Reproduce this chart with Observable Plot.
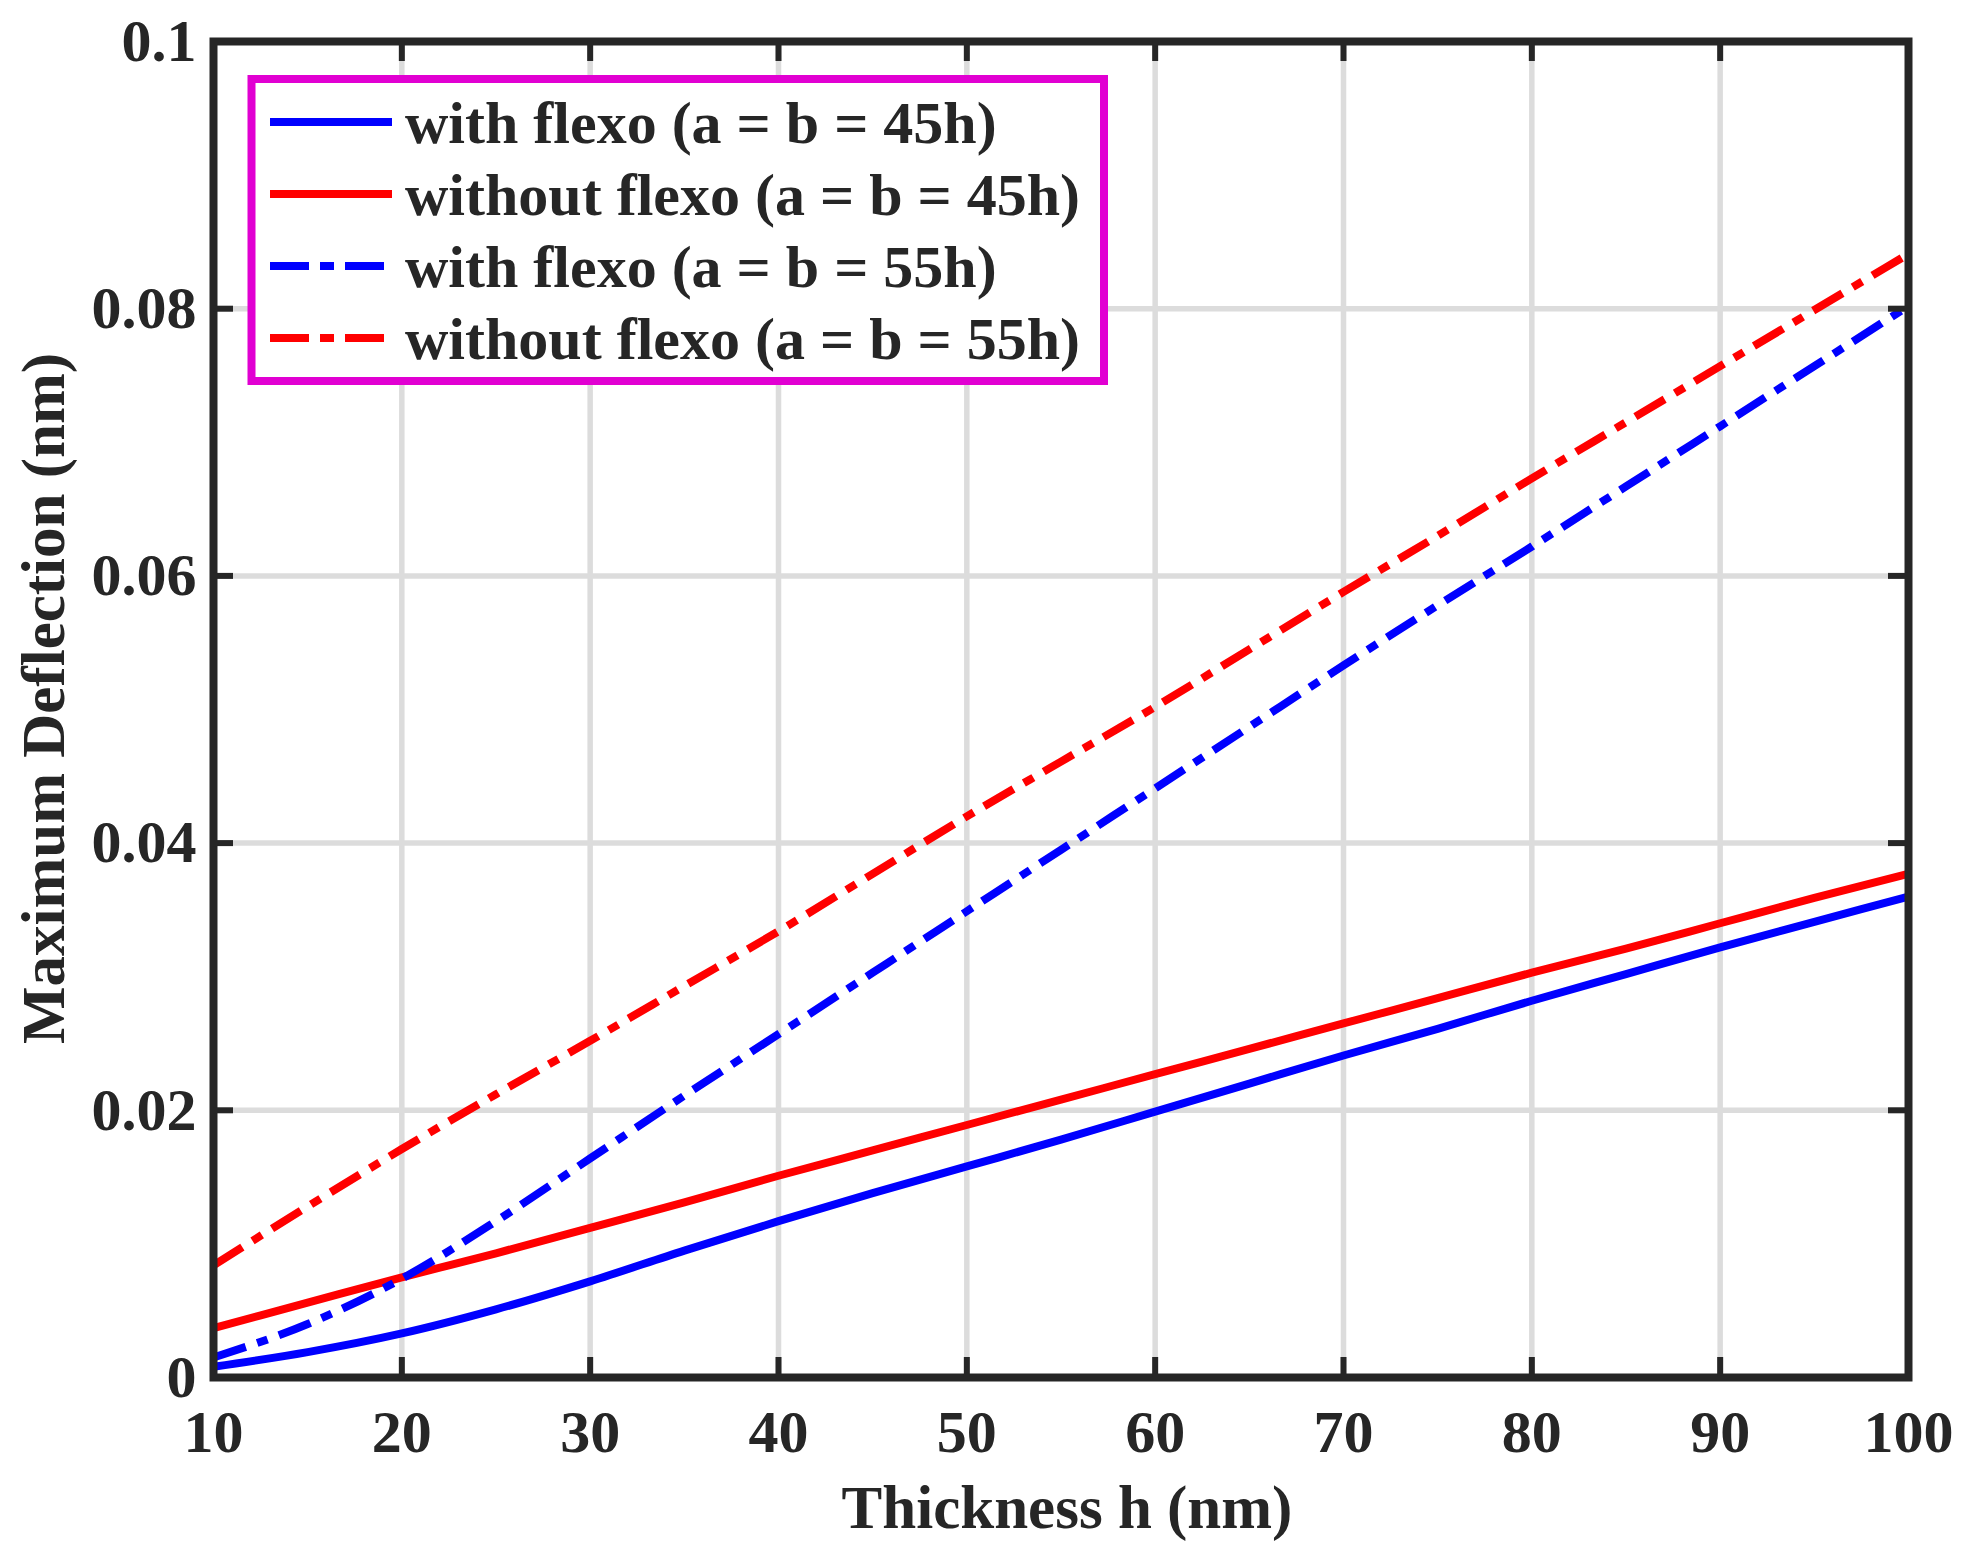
<!DOCTYPE html>
<html>
<head>
<meta charset="utf-8">
<script src="https://cdn.jsdelivr.net/npm/d3@7"></script>
<script src="https://cdn.jsdelivr.net/npm/@observablehq/plot@0.6"></script>
<style>
  html, body { margin: 0; padding: 0; background: #fff; }
  #chart svg { display: block; }
</style>
</head>
<body>
<div id="chart"></div>
<script>
// ---- data ----
const thickness = [10, 15, 20, 25, 30, 35, 40, 45, 50, 55, 60, 65, 70, 75, 80, 85, 90, 95, 100];
const withFlexo45    = [0.0008, 0.0019, 0.0033, 0.0051, 0.0072, 0.0095, 0.0117, 0.0138, 0.0158, 0.0178, 0.0199, 0.0220, 0.0241, 0.0261, 0.0282, 0.0302, 0.0322, 0.0341, 0.0360];
const withoutFlexo45 = [0.0037, 0.0056, 0.0075, 0.0093, 0.0112, 0.0131, 0.0151, 0.0170, 0.0189, 0.0208, 0.0227, 0.0246, 0.0265, 0.0284, 0.0303, 0.0321, 0.0340, 0.0359, 0.0377];
const withFlexo55    = [0.0015, 0.0040, 0.0074, 0.0117, 0.0164, 0.0211, 0.0257, 0.0303, 0.0349, 0.0395, 0.0441, 0.0487, 0.0533, 0.0578, 0.0622, 0.0667, 0.0712, 0.0757, 0.0802];
const withoutFlexo55 = [0.0084, 0.0128, 0.0171, 0.0212, 0.0252, 0.0293, 0.0334, 0.0377, 0.0420, 0.0461, 0.0502, 0.0545, 0.0588, 0.0630, 0.0673, 0.0715, 0.0757, 0.0799, 0.0841];

const seriesNames  = ["with flexo (a = b = 45h)", "without flexo (a = b = 45h)", "with flexo (a = b = 55h)", "without flexo (a = b = 55h)"];
const seriesColors = ["#0000ff", "#ff0000", "#0000ff", "#ff0000"];
const seriesDash   = [null, null, "34,12,11,12", "34,12,11,12"];

const xTicks = [10, 20, 30, 40, 50, 60, 70, 80, 90, 100];
const yTicks = [0, 0.02, 0.04, 0.06, 0.08, 0.1];
const xLabel = "Thickness h (nm)";
const yLabel = "Maximum Deflection (nm)";

// ---- build table ----
const seriesValues = [withFlexo45, withoutFlexo45, withFlexo55, withoutFlexo55];
const rows = seriesValues.flatMap((vals, i) =>
  thickness.map((t, j) => ({ s: i, x: t, y: vals[j] }))
);

// ---- layout ----
const W = 1970, H = 1556;
const mL = 213, mR = 62, mT = 41, mB = 179;
const plotW = W - mL - mR, plotH = H - mT - mB;
const font = "'Liberation Serif', 'Times New Roman', Times, serif";
const ink = "#262626";
const tickLen = 20;

const chart = Plot.plot({
  width: W, height: H,
  marginLeft: mL, marginRight: mR, marginTop: mT, marginBottom: mB,
  style: { fontFamily: font, fontWeight: "bold", color: ink, background: "#fff", overflow: "visible" },
  x: { domain: [10, 100], label: null },
  y: { domain: [0, 0.1], label: null },
  marks: [
    Plot.ruleX(xTicks, { x: d => d, stroke: "#dcdcdc", strokeWidth: 5.5 }),
    Plot.ruleY(yTicks, { y: d => d, stroke: "#dcdcdc", strokeWidth: 5.5 }),
    ...seriesValues.map((_, i) => Plot.line(rows.filter(r => r.s === i), {
      x: "x", y: "y", stroke: seriesColors[i], strokeWidth: 8,
      strokeDasharray: seriesDash[i], strokeLinecap: "butt", curve: "monotone-x"
    })),
    Plot.frame({ stroke: ink, strokeWidth: 8 }),
    Plot.ruleX(xTicks, { x: d => d, stroke: ink, strokeWidth: 6, insetTop: plotH - tickLen }),
    Plot.ruleX(xTicks, { x: d => d, stroke: ink, strokeWidth: 6, insetBottom: plotH - tickLen }),
    Plot.ruleY(yTicks, { y: d => d, stroke: ink, strokeWidth: 6, insetRight: plotW - tickLen }),
    Plot.ruleY(yTicks, { y: d => d, stroke: ink, strokeWidth: 6, insetLeft: plotW - tickLen }),
    Plot.axisX({ ticks: xTicks, tickSize: 0, tickPadding: 32, fontSize: 60, fontWeight: "bold", fill: ink, label: null, tickFormat: d => String(d) }),
    Plot.axisY({ ticks: yTicks, tickSize: 0, tickPadding: 17, fontSize: 60, fontWeight: "bold", fill: ink, label: null, tickFormat: d3.format("~g") }),
    Plot.text([xLabel], { text: d => d, frameAnchor: "bottom", dx: 6, dy: 131, fontSize: 61, fontWeight: "bold", fill: ink, textAnchor: "middle", lineAnchor: "middle" }),
    Plot.text([yLabel], { text: d => d, frameAnchor: "left", dx: -169, dy: -11, rotate: -90, fontSize: 61, fontWeight: "bold", fill: ink, textAnchor: "middle", lineAnchor: "middle" })
  ]
});

document.getElementById("chart").appendChild(chart);

// ---- legend (inside the axes, upper left) ----
const svg = d3.select(chart);
const lg = svg.append("g").attr("class", "legend");
lg.append("rect")
  .attr("x", 251.5).attr("y", 79).attr("width", 852.5).attr("height", 302)
  .attr("fill", "#fff").attr("stroke", "#e100d2").attr("stroke-width", 8);
seriesNames.forEach((name, i) => {
  const cy = 122 + 72 * i;
  lg.append("line")
    .attr("x1", 270).attr("x2", 392).attr("y1", cy).attr("y2", cy)
    .attr("stroke", seriesColors[i]).attr("stroke-width", 8)
    .attr("stroke-dasharray", seriesDash[i] ? "39,11,14,11" : null);
  lg.append("text")
    .attr("x", 405).attr("y", cy + 21)
    .attr("text-anchor", "start")
    .attr("font-family", font).attr("font-weight", "bold").attr("font-size", 60)
    .attr("fill", ink)
    .text(name);
});
</script>
</body>
</html>
